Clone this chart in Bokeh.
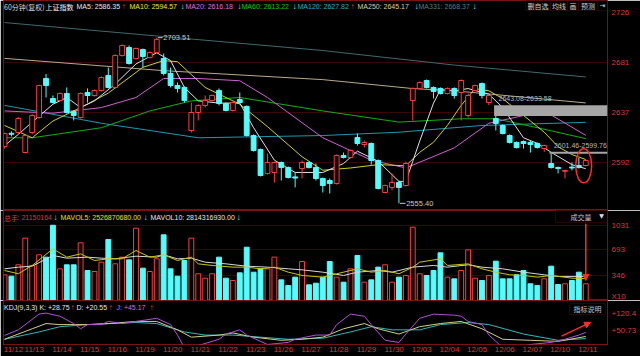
from bokeh.plotting import figure
from bokeh.layouts import column
from bokeh.models import (Range1d, FixedTicker, Label, ColumnDataSource, Arrow,
                          NormalHead, BoxAnnotation)
from bokeh.embed import file_html
from bokeh.resources import INLINE

# ---------------- data ----------------
dates = ["11/12", "11/13", "11/14", "11/15", "11/16", "11/19", "11/20", "11/21",
         "11/22", "11/23", "11/26", "11/27", "11/28", "11/29", "11/30", "12/03",
         "12/04", "12/05", "12/06", "12/07", "12/10", "12/11"]
bars_per_day = [3] + [4] * 20 + [2]

opens = [2606.2, 2618.0, 2618.7, 2600.8, 2618.7, 2632.1, 2667.0, 2649.1, 2647.3, 2653.6,
         2637.5, 2632.1, 2654.5, 2651.8, 2656.3, 2669.7, 2659.0, 2687.6, 2694.7, 2684.9,
         2692.9, 2685.8, 2690.2, 2684.9, 2671.5, 2660.7, 2659.0, 2620.5, 2636.6, 2642.9,
         2647.3, 2656.3, 2644.7, 2638.4, 2648.2, 2642.0, 2616.0, 2603.5, 2582.1, 2583.0,
         2591.9, 2587.4, 2579.0, 2586.5, 2591.9, 2587.4, 2577.6, 2575.8, 2573.1, 2598.2,
         2596.4, 2614.3, 2608.0, 2608.9, 2593.7, 2565.1, 2569.6, 2574.0, 2571.3, 2647.3,
         2658.1, 2665.2, 2659.0, 2658.1, 2653.6, 2658.1, 2654.5, 2633.9, 2656.3, 2662.5,
         2645.5, 2631.2, 2625.0, 2616.0, 2609.8, 2610.7, 2609.8, 2608.9, 2604.4, 2591.0,
         2587.4, 2584.0, 2587.8, 2589.2, 2589.2]
highs = [2618.5, 2619.8, 2632.5, 2617.0, 2635.0, 2661.5, 2671.0, 2651.8, 2654.5, 2659.0,
         2638.4, 2654.5, 2658.1, 2657.2, 2668.8, 2676.8, 2688.5, 2697.4, 2696.5, 2694.7,
         2693.8, 2691.1, 2703.51, 2689.3, 2676.8, 2663.4, 2660.0, 2645.5, 2643.8, 2651.8,
         2652.7, 2658.1, 2645.5, 2646.4, 2654.5, 2642.9, 2617.0, 2604.4, 2600.0, 2592.8,
         2592.8, 2588.3, 2583.0, 2593.7, 2592.8, 2591.0, 2578.5, 2577.6, 2599.1, 2600.8,
         2603.5, 2617.8, 2611.6, 2609.8, 2594.6, 2572.2, 2582.1, 2575.8, 2592.8, 2659.0,
         2664.3, 2666.1, 2659.9, 2659.0, 2659.0, 2659.0, 2666.1, 2653.6, 2661.6, 2663.4,
         2652.7, 2633.58, 2625.9, 2617.0, 2610.7, 2611.6, 2611.6, 2609.8, 2607.9, 2599.76,
         2588.3, 2585.5, 2591.9, 2596.0, 2594.6]
lows = [2604.4, 2615.2, 2617.5, 2600.0, 2617.0, 2631.0, 2650.0, 2644.7, 2646.5, 2635.7,
        2629.5, 2631.2, 2645.5, 2650.9, 2655.4, 2658.1, 2658.1, 2686.7, 2679.5, 2684.0,
        2676.8, 2684.9, 2689.3, 2669.7, 2659.0, 2654.5, 2645.5, 2618.7, 2629.5, 2641.1,
        2646.4, 2642.9, 2637.5, 2637.5, 2644.7, 2615.2, 2601.7, 2579.4, 2581.2, 2574.0,
        2575.8, 2577.6, 2569.6, 2577.6, 2586.5, 2575.8, 2565.1, 2564.2, 2572.2, 2595.5,
        2595.5, 2607.1, 2605.3, 2590.0, 2567.8, 2564.2, 2567.0, 2555.40, 2570.4, 2629.5,
        2657.2, 2658.1, 2649.1, 2652.7, 2652.7, 2649.1, 2629.5, 2632.1, 2655.4, 2649.1,
        2643.08, 2620.5, 2617.0, 2608.9, 2604.4, 2604.4, 2600.8, 2604.4, 2601.46, 2586.5,
        2582.1, 2577.6, 2584.8, 2586.5, 2588.3]
closes = [2617.8, 2617.2, 2631.2, 2616.0, 2633.9, 2660.7, 2660.7, 2645.5, 2653.6, 2636.6,
          2633.9, 2653.6, 2651.8, 2656.3, 2667.9, 2659.0, 2687.6, 2696.5, 2680.4, 2693.8,
          2686.7, 2690.2, 2702.0, 2671.5, 2660.7, 2658.1, 2647.3, 2636.6, 2642.9, 2647.3,
          2651.8, 2644.7, 2638.4, 2645.5, 2645.5, 2616.0, 2602.6, 2580.3, 2591.9, 2591.9,
          2587.4, 2578.5, 2578.0, 2591.9, 2587.4, 2577.6, 2571.3, 2573.1, 2598.2, 2596.4,
          2602.6, 2608.9, 2609.8, 2593.7, 2568.7, 2571.3, 2574.0, 2569.6, 2591.0, 2658.1,
          2663.4, 2659.0, 2655.4, 2653.6, 2658.1, 2651.8, 2665.2, 2651.8, 2660.7, 2651.8,
          2651.8, 2626.8, 2617.8, 2609.8, 2605.3, 2608.9, 2608.0, 2605.3, 2607.1, 2587.4,
          2586.5, 2584.8, 2587.0, 2587.4, 2593.7]
volumes = [352, 333, 489, 854, 480, 626, 594, 1031, 434, 489,
           489, 790, 411, 397, 525, 836, 503, 594, 557, 991,
           443, 397, 571, 900, 434, 333, 548, 854, 366, 306,
           366, 594, 306, 274, 379, 730, 388, 434, 434, 594,
           283, 206, 320, 534, 215, 237, 320, 534, 320, 251,
           434, 617, 251, 283, 457, 489, 251, 320, 343, 1004,
           366, 343, 411, 653, 320, 297, 411, 694, 306, 274,
           343, 539, 297, 297, 352, 411, 229, 206, 297, 470,
           219, 229, 274, 388, 229]

ma5_bar = [0, 2, 4, 7, 9, 11, 13, 16, 19, 22, 24, 26, 28, 31, 34, 36, 39, 42, 46, 49,
           51, 54, 57, 58, 59, 60, 62, 63, 65, 67, 70, 72, 75, 77, 79, 82, 84]
ma5 = [2607, 2617, 2628, 2644, 2650, 2641, 2647, 2662, 2680, 2690, 2683, 2659, 2647, 2645,
       2645, 2623, 2594, 2583, 2583, 2591, 2602, 2593, 2575, 2575, 2593, 2611, 2645, 2657,
       2656, 2658, 2653, 2641, 2614, 2609, 2601, 2590, 2586.35]
ma10_bar = [0, 4, 7, 11, 15, 20, 23, 25, 29, 34, 38, 43, 46, 50, 54, 58, 60, 62, 64, 66,
            68, 70, 72, 74, 76, 78, 80, 82, 84]
ma10 = [2625, 2614, 2629, 2641, 2654, 2677, 2683, 2682, 2659, 2644, 2624, 2597, 2585, 2587,
        2590, 2589, 2601, 2610, 2625, 2643, 2658, 2656, 2649, 2639, 2629, 2619, 2606, 2599,
        2594.57]
ma20_bar = [0, 7, 14, 19, 23, 28, 34, 38, 46, 53, 58, 65, 70, 78, 84]
ma20 = [2638, 2636, 2641, 2650, 2667, 2667, 2665, 2650, 2614, 2594, 2587, 2605, 2627, 2638,
        2616.18]
ma60_bar = [0, 4, 14, 21, 27, 34, 46, 57, 66, 71, 77, 84]
ma60 = [2614, 2614, 2623, 2638, 2647, 2650, 2638, 2628, 2631, 2631, 2623, 2613.22]
ma120_bar = [0, 14, 28, 46, 57, 69, 84]
ma120 = [2643, 2627, 2614, 2616, 2619, 2625, 2627.82]
ma250_bar = [0, 23, 46, 59, 65, 84]
ma250 = [2685, 2674, 2666, 2658, 2656, 2645.17]
ma331_bar = [0, 22, 46, 65, 84]
ma331 = [2717, 2705, 2692, 2679, 2668.37]

mavol5_bar = [0, 2, 4, 7, 9, 11, 13, 15, 17, 19, 21, 23, 25, 27, 28, 30, 33, 35, 37, 39,
              41, 43, 46, 48, 51, 53, 55, 57, 59, 60, 63, 64, 67, 69, 71, 73, 75, 77, 79,
              82, 84]
mavol5 = [411, 366, 480, 708, 594, 639, 548, 571, 571, 685, 594, 626, 548, 594, 502, 480,
          457, 457, 434, 457, 388, 343, 320, 366, 434, 388, 411, 366, 457, 525, 571, 480,
          502, 434, 388, 352, 343, 320, 343, 306, 300]
mavol10_bar = [0, 2, 4, 7, 9, 12, 14, 16, 19, 22, 23, 25, 27, 29, 32, 35, 38, 41, 43, 46,
               49, 51, 54, 56, 59, 62, 64, 67, 69, 72, 75, 78, 80, 84]
mavol10 = [434, 457, 470, 617, 580, 594, 580, 571, 607, 594, 626, 571, 580, 525, 502, 470,
           457, 434, 420, 388, 343, 388, 411, 388, 457, 480, 457, 489, 457, 434, 388, 352,
           330, 330]

k_bar = [0, 4, 6, 8, 12, 15, 19, 22, 25, 27, 31, 33, 36, 40, 43, 46, 49, 52, 54, 57, 60,
         63, 66, 69, 72, 76, 80, 84]
k_val = [17.9, 58.9, 79.4, 75.3, 75.3, 79.4, 87.6, 87.6, 54.8, 26.1, 34.3, 42.5, 26.1,
         13.8, 17.9, 26.1, 58.9, 79.4, 58.9, 38.4, 67.1, 79.4, 87.6, 58.9, 17.9, 13.8, 9.7,
         28.75]
d_bar = [0, 5, 8, 12, 19, 22, 26, 29, 33, 37, 41, 46, 50, 53, 56, 60, 63, 67, 70, 75, 80, 84]
d_val = [17.9, 46.6, 67.1, 75.3, 83.5, 79.4, 46.6, 34.3, 34.3, 26.1, 17.9, 22.0, 46.6, 67.1,
         54.8, 54.8, 75.3, 83.5, 75.3, 38.4, 13.8, 20.55]
j_bar = [0, 2, 5, 6, 8, 10, 11, 12, 14, 15, 17, 19, 22, 24, 25, 26, 28, 31, 32, 34, 35, 38,
         41, 42, 45, 47, 48, 50, 52, 53, 55, 57, 58, 60, 62, 65, 66, 67, 69, 70, 72, 74, 76,
         79, 81, 83, 84]
j_val = [33.1, 54.8, 116.3, 120.4, 108.1, 79.4, 58.9, 75.3, 75.3, 87.6, 79.4, 87.6, 99.9,
         75.3, 34.3, -14.9, -6.7, 17.9, 38.4, 54.8, 34.3, -2.6, 5.6, 17.9, 34.3, 34.3, 75.3,
         116.3, 108.1, 75.3, 13.8, 5.6, 38.4, 99.9, 116.3, 112.2, 108.1, 87.6, 75.3, 34.3,
         -14.9, -14.9, -2.6, 5.6, 17.9, 34.3, 45.17]

gap_bar = [71, 79]           # first bar after each open gap
gap_top = [2643.08, 2601.46]
gap_bottom = [2633.58, 2599.76]

price_ticks = [2592, 2637, 2681, 2726]
vol_ticks = [346, 693, 1031]
vol_unit_tick = 55           # where the "X10" unit note sits on the volume scale
kdj_ticks = [50.73, 120.4]
total_hands = "21150164"
mavol5_text = "2526870680.00"
mavol10_text = "2814316930.00"

# ---------------- style ----------------
BG = "#000000"
UP = "#ff3c3c"
DN = "#54fcfc"
FRAME = "#7a1212"
GRID = "#3a0606"
AXRED = "#d83c3c"
FONT = "Liberation Sans"
CJK = "Noto Sans CJK SC"
C_MA = {"5": "#e8e8e8", "10": "#e8e830", "20": "#e070e0", "60": "#10c810",
        "120": "#20b0d0", "250": "#d8cdb0", "331": "#527f80"}
C_MA_LINE = {"5": "#e0e0e0", "10": "#d0d020", "20": "#d060d0", "60": "#10b010",
             "120": "#1c98b0", "250": "#b8aa8a", "331": "#3e6a6c"}

N = len(closes)
xr = Range1d(-0.145, 87.14)
P_LO, P_HI = 2548.99, 2736.73
VOL_TOP = 1233
K_LO, K_HI = -2.6, 169.6
KDJ_FB = 342                 # page row of the KDJ frame bottom (date axis below)

is_up = [c >= o for o, c in zip(opens, closes)]
src = ColumnDataSource(dict(
    x=list(range(N)), h=highs, l=lows,
    top=[max(o, c) for o, c in zip(opens, closes)],
    bot=[min(o, c) for o, c in zip(opens, closes)],
    fill=[BG if u else DN for u in is_up],
    line=[UP if u else DN for u in is_up],
    v=volumes))


def base_fig(height, y_range, bottom_border=0, x_axis=None):
    f = figure(width=640, height=height, x_range=xr, y_range=y_range,
               y_axis_location="right", x_axis_location=x_axis,
               output_backend="svg", toolbar_location=None,
               min_border_left=3, min_border_right=33, min_border_top=0,
               min_border_bottom=bottom_border,
               background_fill_color=BG, border_fill_color=BG,
               outline_line_color=FRAME, outline_line_width=1)
    ax = f.yaxis[0]
    ax.axis_line_color = None
    ax.major_tick_line_color = None
    ax.minor_tick_line_color = None
    ax.major_tick_out = 0
    ax.major_tick_in = 0
    ax.minor_tick_out = 0
    ax.minor_tick_in = 0
    ax.major_label_text_color = AXRED
    ax.major_label_text_font_size = "8px"
    ax.major_label_text_font = FONT
    ax.major_label_standoff = 4
    f.xgrid.visible = False
    f.ygrid.grid_line_color = GRID
    return f


def lab(fig, fb, px, py, text, color, size=7, font=FONT, align="left"):
    fig.add_layout(Label(x=px - 3, y=fb - py, x_units="screen", y_units="screen",
                         text=text, text_color=color, text_font_size=f"{size}px",
                         text_font=font, text_align=align, text_baseline="middle",
                         level="overlay"))


def box(fig, fb, x0, x1, y0, y1, color=FRAME):
    fig.add_layout(BoxAnnotation(left=x0 - 3, right=x1 - 3, top=fb - y0, bottom=fb - y1,
                                 left_units="screen", right_units="screen",
                                 top_units="screen", bottom_units="screen",
                                 fill_color=BG, fill_alpha=1.0, line_color=color,
                                 line_width=1, level="annotation"))


# ---------------- main price panel ----------------
pm = base_fig(210, Range1d(P_LO, P_HI))
pm.yaxis[0].ticker = FixedTicker(ticks=price_ticks)
pm.ygrid.ticker = FixedTicker(ticks=price_ticks[:-1])

for key, bx, vals in [("331", ma331_bar, ma331), ("250", ma250_bar, ma250),
                      ("120", ma120_bar, ma120), ("60", ma60_bar, ma60),
                      ("20", ma20_bar, ma20), ("10", ma10_bar, ma10), ("5", ma5_bar, ma5)]:
    pm.line(bx, vals, line_color=C_MA_LINE[key], line_width=1)

pm.segment(x0="x", y0="l", x1="x", y1="h", line_color="line", line_width=1, source=src)
pm.vbar(x="x", width=0.7, top="top", bottom="bot", fill_color="fill", line_color="line",
        line_width=1, source=src)

# open gaps
pm.quad(left=[g - 0.25 for g in gap_bar], right=[xr.end] * len(gap_bar), top=gap_top,
        bottom=gap_bottom, fill_color="#a6a6a6", line_color=None)
for g, t, b in zip(gap_bar, gap_top, gap_bottom):
    pm.add_layout(Label(x=g + 0.4, y=t + 6, text=f"{t:.2f}-{b:.2f}", text_color="#b8b8b8",
                        text_font_size="7px", text_font=FONT, text_baseline="middle"))

# extreme labels
hi_i = max(range(N), key=lambda i: highs[i])
lo_i = min(range(N), key=lambda i: lows[i])
pm.segment(x0=[hi_i + 0.15, lo_i + 0.15], y0=[highs[hi_i], lows[lo_i]],
           x1=[hi_i + 0.85, lo_i + 0.95], y1=[highs[hi_i], lows[lo_i]],
           line_color="#c8c8c8", line_width=1)
pm.add_layout(Label(x=hi_i + 0.95, y=highs[hi_i], text=f"{highs[hi_i]:.2f}",
                    text_color="#c8c8c8", text_font_size="7.5px", text_font=FONT,
                    text_baseline="middle"))
pm.add_layout(Label(x=lo_i + 1.05, y=lows[lo_i], text=f"{lows[lo_i]:.2f}",
                    text_color="#c8c8c8", text_font_size="7.5px", text_font=FONT,
                    text_baseline="middle"))

# red circle around last candle
pm.ellipse(x=[N - 1.3], y=[(highs[-1] + lows[-1]) / 2 - 2.5], width=2.3, height=30.5,
           fill_color=None, line_color="#ff2a2a", line_width=1.5)

# header
buttons = [(525, 550, "删自选"), (550, 567, "均线"), (567, 578, "画"), (578, 597, "预测"),
           (597, 607, "⇥")]
for x0, x1, t in buttons:
    box(pm, 210, x0, x1, 0, 10, "#5a1a1a")
    lab(pm, 210, (x0 + x1) / 2, 5, t, "#cfcfcf", 7, CJK if t != "⇥" else "DejaVu Sans",
        "center")
lab(pm, 210, 3.5, 6, "60分钟(复权)", "#dcdcdc", 7, CJK)
lab(pm, 210, 45, 6, "上证指数", "#f2f2f2", 7, CJK)
header = [("5", "MA5", ma5, 76, 121, True), ("10", "MA10", ma10, 129, 180, False),
          ("20", "MA20", ma20, 185, 237, False), ("60", "MA60", ma60, 241, 292, False),
          ("120", "MA120", ma120, 297, 350, True), ("250", "MA250", ma250, 357, 414, False),
          ("331", "MA331", ma331, 418, 472, False)]
for key, name, vals, x0, xa_, rising in header:
    lab(pm, 210, x0, 6, f"{name}: {vals[-1]:.2f}", C_MA[key], 7)
    lab(pm, 210, xa_, 6, "↑" if rising else "↓", UP if rising else DN, 8)

# ---------------- volume panel ----------------
pv = base_fig(90, Range1d(0, VOL_TOP))
pv.yaxis[0].ticker = FixedTicker(ticks=[vol_unit_tick] + vol_ticks)
pv.yaxis[0].major_label_overrides = {vol_unit_tick: "X10"}
pv.ygrid.ticker = FixedTicker(ticks=vol_ticks)
pv.vbar(x="x", width=0.7, top="v", bottom=0, fill_color="fill", line_color="line",
        line_width=1, source=src)
pv.line(mavol10_bar, mavol10, line_color="#d8d8d8", line_width=1)
pv.line(mavol5_bar, mavol5, line_color="#c8c800", line_width=1)

box(pv, 300, 555, 607, 209, 222)
lab(pv, 300, 3.5, 217, "总手", AXRED, 7, CJK)
lab(pv, 300, 17, 217, f": {total_hands}", AXRED, 7)
lab(pv, 300, 53, 217, "↓", DN, 8)
lab(pv, 300, 60, 217, f"MAVOL5: {mavol5_text}", "#e0e020", 7)
lab(pv, 300, 143, 217, "↓", DN, 8)
lab(pv, 300, 150, 217, f"MAVOL10: {mavol10_text}", "#e8e8e8", 7)
lab(pv, 300, 236, 217, "↓", DN, 8)
lab(pv, 300, 570, 216, "成交量", "#c8c8c8", 7, CJK)
lab(pv, 300, 601, 215, "▼", "#e0e0e0", 6, "DejaVu Sans", "center")
pv.add_layout(Arrow(end=NormalHead(size=6, fill_color="#ff2a2a", line_color="#ff2a2a"),
                    x_start=N - 1, y_start=1050, x_end=N - 1, y_end=volumes[-1] + 45,
                    line_color="#ff2a2a", line_width=1.5))

# ---------------- KDJ panel ----------------
pk = base_fig(56, Range1d(K_LO, K_HI), bottom_border=9, x_axis="below")
pk.yaxis[0].ticker = FixedTicker(ticks=kdj_ticks)
pk.yaxis[0].major_label_overrides = {t: f"+{t}" for t in kdj_ticks}
pk.ygrid.visible = False
starts = [sum(bars_per_day[:i]) for i in range(len(dates))]
day_ticks = [s + 1.3 for s in starts]
xa = pk.xaxis[0]
xa.ticker = FixedTicker(ticks=day_ticks)
xa.major_label_overrides = {t: d for t, d in zip(day_ticks, dates)}
xa.axis_line_color = None
xa.major_tick_line_color = None
xa.minor_tick_line_color = None
xa.major_tick_out = 0
xa.major_tick_in = 0
xa.minor_tick_out = 0
xa.minor_tick_in = 0
xa.major_label_text_color = AXRED
xa.major_label_text_font_size = "8px"
xa.major_label_text_font = FONT
xa.major_label_text_line_height = 0.8
xa.major_label_standoff = 0

pk.line(d_bar, d_val, line_color="#30b8b8", line_width=1)
pk.line(k_bar, k_val, line_color="#d0d080", line_width=1)
pk.line(j_bar, j_val, line_color="#b050d8", line_width=1)

box(pk, KDJ_FB, 569, 605, 301, 312)
lab(pk, KDJ_FB, 3.5, 305, f"KDJ(9,3,3) K: +{k_val[-1]:.2f}", "#e6e6e6", 7)
lab(pk, KDJ_FB, 70, 305, "↑", UP, 8)
lab(pk, KDJ_FB, 76, 305, f"D: +{d_val[-1]:.2f}", "#e6e6e6", 7)
lab(pk, KDJ_FB, 108, 305, "↑", UP, 8)
lab(pk, KDJ_FB, 116, 305, f"J: +{j_val[-1]:.2f}", "#d070e0", 7)
lab(pk, KDJ_FB, 149, 305, "↑", UP, 8)
lab(pk, KDJ_FB, 587, 306.5, "指标说明", "#c8c8c8", 7, CJK, "center")
pk.add_layout(Arrow(end=NormalHead(size=6, fill_color="#ff2a2a", line_color="#ff2a2a"),
                    x_start=N - 4.5, y_start=30, x_end=N - 0.3, y_end=84,
                    line_color="#ff2a2a", line_width=1.5))

layout = column(pm, pv, pk, spacing=0)
open("out.html", "w").write(file_html(layout, INLINE))
